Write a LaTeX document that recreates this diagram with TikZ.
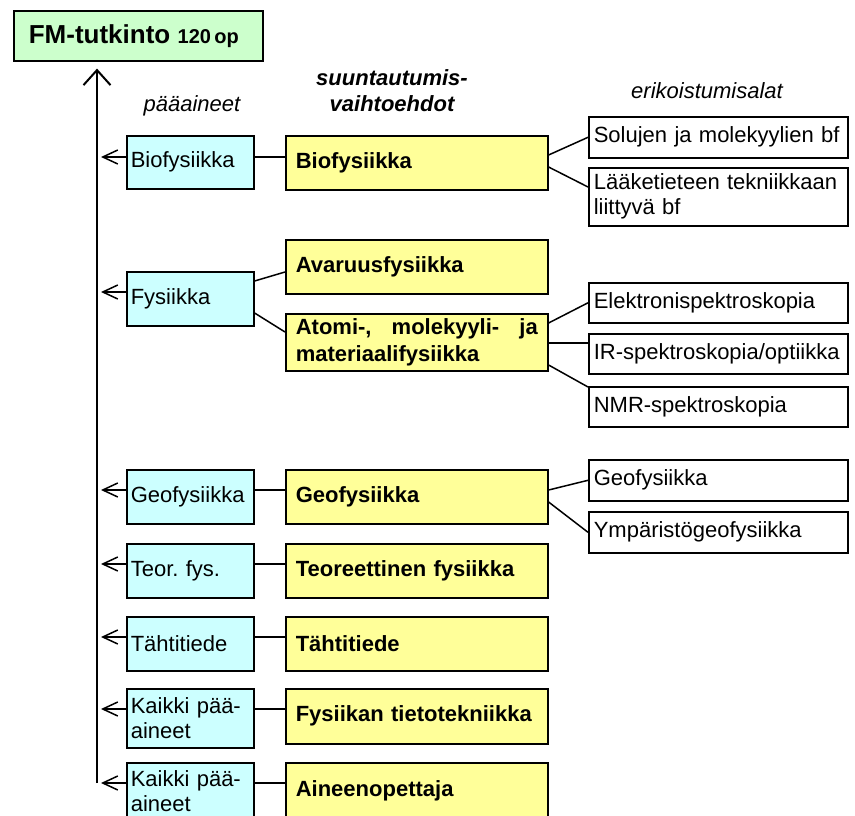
\documentclass[tikz,border=0pt]{standalone}
\usepackage{fontspec}
\setmainfont{Liberation Sans}
\usetikzlibrary{arrows.meta}
\frenchspacing

\definecolor{fmgreen}{HTML}{CCFFCC}
\definecolor{pablue}{HTML}{CCFFFF}
\definecolor{soyellow}{HTML}{FFFF99}

\tikzset{
    box/.style={draw, line width=1.6pt, anchor=north west, inner ysep=0pt, align=left,
        font=\fontsize{22}{25}\selectfont},
    fmbox/.style={box, fill=fmgreen, inner xsep=15pt, text width=219pt, minimum height=50pt,
        font=\bfseries},
    pabox/.style={box, fill=pablue, inner xsep=4pt, text width=119pt, minimum height=#1},
    pabox/.default=54pt,
    sobox/.style={box, fill=soyellow, inner xsep=10pt, text width=242pt, minimum height=#1,
        font=\fontsize{22}{27}\selectfont\bfseries},
    sobox/.default=54pt,
    ekbox/.style={box, fill=white, inner xsep=5pt, text width=249pt, minimum height=#1},
    ekbox/.default=40pt,
    heading/.style={anchor=base, align=center, font=\fontsize{22}{26}\selectfont\itshape},
    conn/.style={line width=1.5pt},
    paarrow/.style={conn, -{Straight Barb[length=15pt,width=14pt]}, shorten >=4pt},
    spine/.style={line width=2pt, -{Straight Barb[length=15pt,width=27pt]}, shorten >=7pt}
}

\begin{document}
\begin{tikzpicture}[x=1pt, y=-1pt]
        \useasboundingbox (0,0) rectangle (855,816);

        % Degree and the spine up to it
        \node[fmbox] (fm) at (13,10) {\fontsize{26}{30}\selectfont FM-tutkinto\hspace{4pt} {\fontsize{20}{24}\selectfont 120 op}};
        \coordinate (spinebot) at (97,783);
        \draw[spine] (spinebot) -- (spinebot |- fm.south); % main arrow

        % Column headings
        \node[heading] (hpa) at (192,112) {pääaineet};
        \node[heading, font=\fontsize{22}{26}\selectfont\bfseries\itshape] (hso) at (392,111) {suuntautumis-\\vaihtoehdot};
        \node[heading] (hek) at (707,99) {erikoistumisalat};

        % Biofysiikka
        \node[pabox=53pt] (pa1) at (126,135) {Biofysiikka};
        \node[sobox] (so1) at (285,135) {Biofysiikka};
        \draw[conn] ([yshift=-22pt]pa1.north east) -- ([yshift=-22pt]so1.north west);
        \draw[paarrow] ([yshift=-22pt]pa1.north west) coordinate (p) -- (p -| spinebot);

        % Fysiikka
        \node[pabox] (pa2) at (126,271) {Fysiikka};
        \node[sobox] (so2a) at (285,239) {Avaruusfysiikka};
        \node[sobox=57pt] (so2b) at (285,313) {Atomi-,\hfill molekyyli-\hfill ja\\materiaalifysiikka};
        \draw[conn] ([yshift=-10pt]pa2.north east) -- ([yshift=-33pt]so2a.north west);
        \draw[conn] ([yshift=-42pt]pa2.north east) -- ([yshift=-19pt]so2b.north west);
        \draw[paarrow] ([yshift=-21pt]pa2.north west) coordinate (p) -- (p -| spinebot);

        % One main subject, one option
        \foreach \n/\y/\hp/\hs/\pa/\so in {3/469/54pt/54pt/Geofysiikka/Geofysiikka,
                4/543/54pt/54pt/Teor. fys./Teoreettinen fysiikka,
                5/616/54pt/54pt/Tähtitiede/Tähtitiede,
                6/688/59pt/55pt/{Kaikki pää-\\aineet}/Fysiikan tietotekniikka,
                7/762/57pt/57pt/{Kaikki pää-\\aineet}/Aineenopettaja} {
            \node[pabox=\hp] (pa\n) at (126,\y) {\pa};
            \node[sobox=\hs] (so\n) at (285,\y) {\so};
            \draw[conn] ([yshift=-21pt]pa\n.north east) -- ([yshift=-21pt]so\n.north west);
            \draw[paarrow] ([yshift=-21pt]pa\n.north west) coordinate (p) -- (p -| spinebot);
        }

        % Specialisations
        \node[ekbox=41pt] (ek1) at (588,116) {Solujen ja molekyylien bf};
        \node[ekbox=58pt] (ek2) at (588,167) {Lääketieteen tekniikkaan\\liittyvä bf};
        \node[ekbox] (ek3) at (588,282) {Elektronispektroskopia};
        \node[ekbox] (ek4) at (588,333) {IR-spektroskopia/optiikka};
        \node[ekbox] (ek5) at (588,386) {NMR-spektroskopia};
        \node[ekbox=41pt] (ek6) at (588,459) {Geofysiikka};
        \node[ekbox=41pt] (ek7) at (588,511) {Ympäristögeofysiikka};

        \draw[conn] ([yshift=-20pt]so1.north east) -- (ek1.west);
        \draw[conn] ([yshift=-32pt]so1.north east) -- ([yshift=-20pt]ek2.north west);
        \draw[conn] ([yshift=-10pt]so2b.north east) -- (ek3.west);
        \draw[conn] ([yshift=-30pt]so2b.north east) -- ([yshift=-10pt]ek4.north west);
        \draw[conn] ([yshift=-52pt]so2b.north east) -- ([yshift=-1pt]ek5.north west);
        \draw[conn] ([yshift=-21pt]so3.north east) -- (ek6.west);
        \draw[conn] ([yshift=-33pt]so3.north east) -- (ek7.west);
\end{tikzpicture}
\end{document}
